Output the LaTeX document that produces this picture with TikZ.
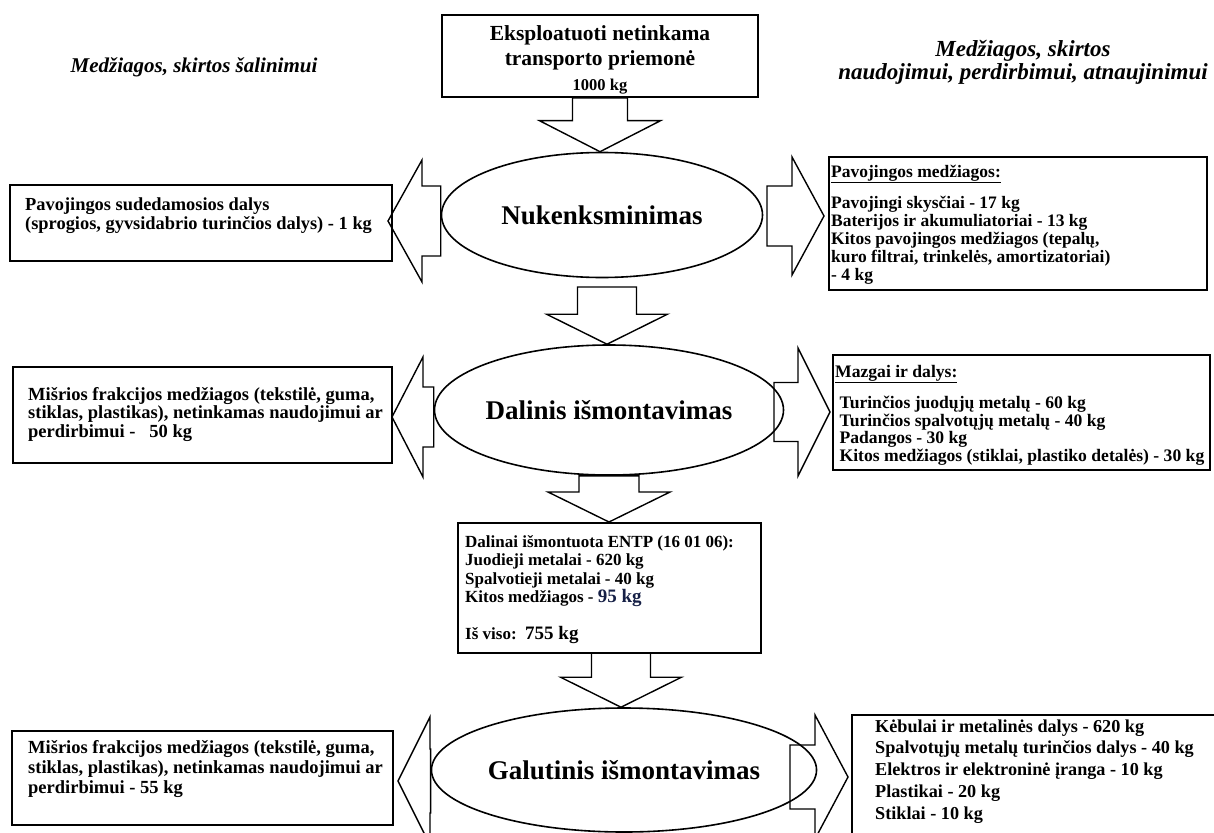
\documentclass[tikz,border=0pt]{standalone}
\usepackage{fontspec}
\setmainfont{Liberation Serif}
\usetikzlibrary{shapes.geometric,calc}
\definecolor{inkblue}{RGB}{22,32,70}

% block arrow from #1 to #2: shaft half width #3, head half width #4, head length #5
\newcommand{\blockarrow}[5]{%
  \draw[blockline] let \p1=(#1), \p2=(#2),
    \n1={atan2(\y2-\y1,\x2-\x1)}, \n2={veclen(\x2-\x1,\y2-\y1)} in
    [shift={(\x1,\y1)}, rotate=\n1]
    (0,-#3) -- ({\n2-#5},-#3) -- ({\n2-#5},-#4) -- (\n2,0)
    -- ({\n2-#5},#4) -- ({\n2-#5},#3) -- (0,#3) -- cycle;}

\tikzset{
  blockline/.style={draw=black, line width=1.4pt, line join=miter},
  frame/.style={draw=black, line width=2pt, rectangle, inner sep=0pt, fill=white},
  stage/.style={draw=black, line width=1.6pt, ellipse, inner sep=0pt, fill=white,
    font=\bfseries\fontsize{27}{30}\selectfont},
  body/.style={anchor=north west, inner sep=0pt, align=left,
    font=\bfseries\fontsize{17.5}{18}\selectfont},
  heading/.style={inner sep=0pt, align=center,
    font=\bfseries\itshape\fontsize{21}{22}\selectfont},
}

\begin{document}
\begin{tikzpicture}[x=1pt, y=-1pt]
\useasboundingbox (0,0) rectangle (1214,832);
\clip (0,0) rectangle (1214,832);
\fill[white] (0,0) rectangle (1214,832);

% column headings
\node[heading] (hleft) at (194,67) {Medžiagos, skirtos šalinimui};
\node[heading, font=\bfseries\itshape\fontsize{23}{23}\selectfont] (hright) at (1023,62)
  {Medžiagos, skirtos\\naudojimui, perdirbimui, atnaujinimui};

% source vehicle
\node[frame, minimum width=316pt, minimum height=82pt] (src) at (600,56) {};
\node[inner sep=0pt, align=center, font=\bfseries\fontsize{21.5}{25}\selectfont] (srctext) at (600,60)
  {Eksploatuoti netinkama\\transporto priemonė\\{\fontsize{16.5}{25}\selectfont 1000 kg}};

% process stages
\node[stage, minimum width=321pt, minimum height=125pt] (ell1) at (602,215) {Nukenksminimas};
\node[stage, minimum width=322pt, minimum height=130pt] (ell2) at (609,410) {Dalinis išmontavimas};
\node[stage, minimum width=322pt, minimum height=124pt] (ell3) at (624,770) {Galutinis išmontavimas};

% output boxes
\node[frame, minimum width=382pt, minimum height=76pt] (out1) at (201,223) {};
\node[frame, minimum width=378pt, minimum height=133pt] (rec1) at (1018,223.5) {};
\node[frame, minimum width=379pt, minimum height=96pt] (out2) at (202.5,415) {};
\node[frame, minimum width=377pt, minimum height=115pt] (rec2) at (1021.5,412.5) {};
\node[frame, minimum width=303pt, minimum height=130pt] (part) at (609.5,588) {};
\node[frame, minimum width=381pt, minimum height=94pt] (out3) at (202.5,778) {};
\node[frame, minimum width=366pt, minimum height=140pt] (rec3) at (1035,785) {};

% box texts
\node[body, font=\bfseries\fontsize{18.4}{18}\selectfont] (t1) at (25,197.4)
  {\strut Pavojingos sudedamosios dalys\\(sprogios, gyvsidabrio turinčios dalys) - 1 kg};
\node[body] (t2) at (831,164.4) {\strut\underline{Pavojingos medžiagos:}\\[12pt]
  Pavojingi skysčiai - 17 kg\\
  Baterijos ir akumuliatoriai - 13 kg\\
  Kitos pavojingos medžiagos (tepalų,\\
  kuro filtrai, trinkelės, amortizatoriai)\\
  - 4 kg};
\node[body, font=\bfseries\fontsize{18.5}{18.5}\selectfont] (t3) at (28,387)
  {\strut Mišrios frakcijos medžiagos (tekstilė, guma,\\stiklas, plastikas), netinkamas naudojimui ar\\perdirbimui -\ \ \ 50 kg};
\node[body, font=\bfseries\fontsize{17.6}{17.5}\selectfont] (t4) at (835,364.75) {\strut\underline{Mazgai ir dalys:}\\[12.5pt]
  \ Turinčios juodųjų metalų - 60 kg\\
  \ Turinčios spalvotųjų metalų - 40 kg\\
  \ Padangos - 30 kg\\
  \ Kitos medžiagos (stiklai, plastiko detalės) - 30 kg};
\node[body, font=\bfseries\fontsize{17}{18.5}\selectfont] (t5) at (465,534) {\strut Dalinai išmontuota ENTP (16 01 06):\\
  Juodieji metalai - 620 kg\\
  Spalvotieji metalai - 40 kg\\
  Kitos medžiagos - {\color{inkblue}\fontsize{19}{18.5}\selectfont 95 kg}\\[18.5pt]
  Iš viso:\ \ {\fontsize{19}{18.5}\selectfont 755 kg}};
\node[body, font=\bfseries\fontsize{18.5}{20}\selectfont] (t6) at (28,739)
  {\strut Mišrios frakcijos medžiagos (tekstilė, guma,\\stiklas, plastikas), netinkamas naudojimui ar\\perdirbimui - 55 kg};
\node[body, font=\bfseries\fontsize{18.2}{21.8}\selectfont] (t7) at (875,716.7) {\strut Kėbulai ir metalinės dalys - 620 kg\\
  Spalvotųjų metalų turinčios dalys - 40 kg\\
  Elektros ir elektroninė įranga - 10 kg\\
  Plastikai - 20 kg\\
  Stiklai - 10 kg};

% block arrows between stages and boxes
\coordinate (a2b) at (607,287);
\coordinate (a4b) at (621,653);
\coordinate (l1t) at (388,221);
\coordinate (r1b) at (767,216);
\coordinate (r1t) at (824,216);
\coordinate (l2t) at (392,417);
\coordinate (r2b) at (774,412);
\coordinate (r2t) at (830,412);
\coordinate (l3t) at (398,781);
\coordinate (r3b) at (790,777);
\coordinate (r3t) at (848,777);

\blockarrow{src.south}{src.south |- ell1.north}{27.5}{60.5}{31}
\blockarrow{a2b}{a2b |- ell2.north}{29.5}{60.5}{30}
\blockarrow{ell2.south}{ell2.south |- part.north}{30}{61}{30}
\blockarrow{a4b}{a4b |- ell3.north}{29.5}{60.5}{30}

\blockarrow{ell1.west |- l1t}{l1t}{35}{61}{34}
\blockarrow{r1b}{r1t}{30}{59}{32}
\blockarrow{ell2.west |- l2t}{l2t}{30}{60}{31}
\blockarrow{r2b}{r2t}{29.5}{64}{32}
\blockarrow{ell3.west |- l3t}{l3t}{32}{64}{32}
\blockarrow{r3b}{r3t}{32}{62}{33}
\end{tikzpicture}
\end{document}
